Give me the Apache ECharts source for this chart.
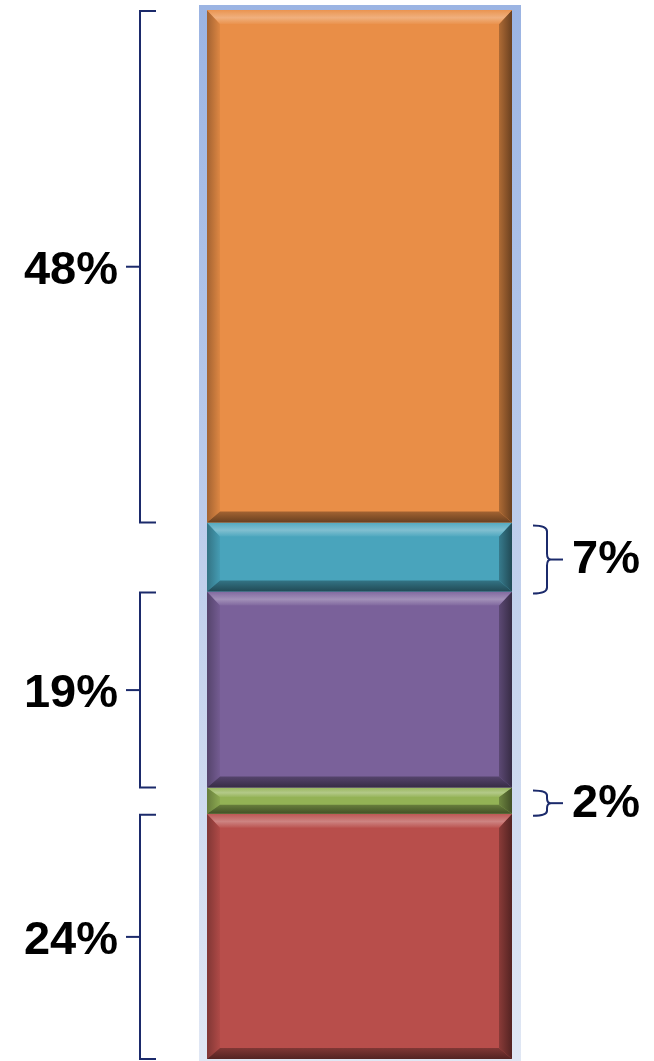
<!DOCTYPE html>
<html>
<head>
<meta charset="utf-8">
<script src="https://cdn.jsdelivr.net/npm/echarts@6/dist/echarts.min.js"></script>
<style>
html,body{margin:0;padding:0;background:#fff;}
#chart{width:654px;height:1061px;}
</style>
</head>
<body>
<div id="chart"></div>
<script>
// Segments listed bottom to top
const categories = ['Red', 'Green', 'Purple', 'Teal', 'Orange'];
const values = [23.4, 2.5, 18.7, 6.6, 48.9];
const labelTexts = ['24%', '2%', '19%', '7%', '48%'];
const labelSides = ['left', 'right', 'left', 'right', 'left'];

const colors = ['#b84e4b', '#93b255', '#7a619a', '#49a4bc', '#e98e47'];

const total = values.reduce((a, b) => a + b, 0);
const starts = [];
let acc = 0;
values.forEach(v => { starts.push(acc); acc += v; });
const segData = values.map((v, i) => [starts[i], starts[i] + v, i]);

function mix(hex, target, t) {
  const n = parseInt(hex.slice(1), 16);
  const r = (n >> 16) & 255, g = (n >> 8) & 255, b = n & 255;
  const tr = target === 'w' ? 255 : 0;
  const f = c => Math.round(c + (tr - c) * t);
  return 'rgb(' + f(r) + ',' + f(g) + ',' + f(b) + ')';
}
const LG = (x, y, x2, y2, stops) => new echarts.graphic.LinearGradient(x, y, x2, y2, stops);

function renderSegment(params, api) {
  const s = api.value(0), e = api.value(1), i = api.value(2);
  const p0 = api.coord([0, e]);
  const p1 = api.coord([1, s]);
  const x0 = p0[0], y0 = p0[1], x1 = p1[0], y1 = p1[1];
  const h = y1 - y0;
  const base = colors[i];
  const bx = 13;
  const bt = Math.min(14, h * 0.36);
  const bb = Math.min(11, h * 0.34);
  const children = [];
  children.push({type: 'rect', shape: {x: x0, y: y0, width: x1 - x0, height: h}, style: {fill: base}});
  // left bevel
  children.push({type: 'polygon', shape: {points: [[x0, y0], [x0 + bx, y0 + bt], [x0 + bx, y1 - bb], [x0, y1]]},
    style: {fill: LG(0, 0, 1, 0, [{offset: 0, color: mix(base, 'b', 0.3)}, {offset: 1, color: mix(base, 'b', 0.05)}])}});
  // right bevel
  children.push({type: 'polygon', shape: {points: [[x1, y0], [x1 - bx, y0 + bt], [x1 - bx, y1 - bb], [x1, y1]]},
    style: {fill: LG(1, 0, 0, 0, [{offset: 0, color: mix(base, 'b', 0.55)}, {offset: 1, color: mix(base, 'b', 0.25)}])}});
  // top bevel
  children.push({type: 'polygon', shape: {points: [[x0, y0], [x1, y0], [x1 - bx, y0 + bt], [x0 + bx, y0 + bt]]},
    style: {fill: LG(0, 0, 0, 1, [{offset: 0, color: mix(base, 'w', 0.05)}, {offset: 0.55, color: mix(base, 'w', 0.3)}, {offset: 1, color: mix(base, 'w', 0.04)}])}});
  // bottom bevel
  children.push({type: 'polygon', shape: {points: [[x0, y1], [x1, y1], [x1 - bx, y1 - bb], [x0 + bx, y1 - bb]]},
    style: {fill: LG(0, 1, 0, 0, [{offset: 0, color: mix(base, 'b', 0.55)}, {offset: 1, color: mix(base, 'b', 0.3)}])}});
  return {type: 'group', children: children};
}

const braceColor = '#1b2a6b';
const labelFont = 'bold 47px "Liberation Sans", Arial, sans-serif';

function renderBrace(params, api) {
  const s = api.value(0), e = api.value(1), i = api.value(2);
  const side = labelSides[i];
  const xL = api.coord([0, 0])[0];
  const xR = api.coord([1, 0])[0];
  let yT = api.coord([0, e])[1];
  let yB = api.coord([0, s])[1];
  const children = [];
  if (side === 'left') {
    yT += 1; yB += 0;
    const xv = xL - 67;
    const yM = (yT + yB) / 2;
    children.push({type: 'polyline', shape: {points: [[xv + 16, yT], [xv, yT], [xv, yB], [xv + 16, yB]]},
      style: {stroke: braceColor, lineWidth: 2, fill: null}});
    children.push({type: 'line', shape: {x1: xv - 14, y1: yM, x2: xv, y2: yM}, style: {stroke: braceColor, lineWidth: 2}});
    children.push({type: 'text', style: {text: labelTexts[i], x: xL - 89, y: yM + 4, font: labelFont, fill: '#000',
      align: 'right', verticalAlign: 'middle'}});
  } else {
    yT += 3; yB += 2;
    const xv = xR + 35;
    const yM = (yT + yB) / 2;
    const r = Math.min(6, (yB - yT) / 5);
    const d = 'M' + (xv - 14) + ' ' + yT +
      ' Q' + xv + ' ' + yT + ' ' + xv + ' ' + (yT + r) +
      ' L' + xv + ' ' + (yM - r) +
      ' Q' + xv + ' ' + yM + ' ' + (xv + 4) + ' ' + yM +
      ' Q' + xv + ' ' + yM + ' ' + xv + ' ' + (yM + r) +
      ' L' + xv + ' ' + (yB - r) +
      ' Q' + xv + ' ' + yB + ' ' + (xv - 14) + ' ' + yB;
    children.push({type: 'path', shape: {pathData: d}, style: {stroke: braceColor, lineWidth: 2, fill: null}});
    children.push({type: 'line', shape: {x1: xv + 4, y1: yM, x2: xv + 16, y2: yM}, style: {stroke: braceColor, lineWidth: 2}});
    children.push({type: 'text', style: {text: labelTexts[i], x: xR + 60, y: yM + 1, font: labelFont, fill: '#000',
      align: 'left', verticalAlign: 'middle'}});
  }
  return {type: 'group', children: children};
}

const chart = echarts.init(document.getElementById('chart'), null, {renderer: 'canvas'});
chart.setOption({
  animation: false,
  backgroundColor: '#ffffff',
  grid: {left: 207, right: 142, top: 10, bottom: 2},
  xAxis: {type: 'value', min: 0, max: 1, show: false},
  yAxis: {type: 'value', min: 0, max: total, show: false},
  graphic: [{
    type: 'rect', left: 199, top: 5, shape: {width: 322, height: 1056}, z: -10,
    style: {fill: new echarts.graphic.LinearGradient(0, 0, 0, 1, [
      {offset: 0, color: '#9bb4e3'}, {offset: 1, color: '#e0e7f4'}])}
  }],
  series: [
    {type: 'custom', name: 'segments', renderItem: renderSegment, data: segData, clip: false, z: 2},
    {type: 'custom', name: 'braces', renderItem: renderBrace, data: segData, clip: false, z: 3}
  ]
});
</script>
</body>
</html>
